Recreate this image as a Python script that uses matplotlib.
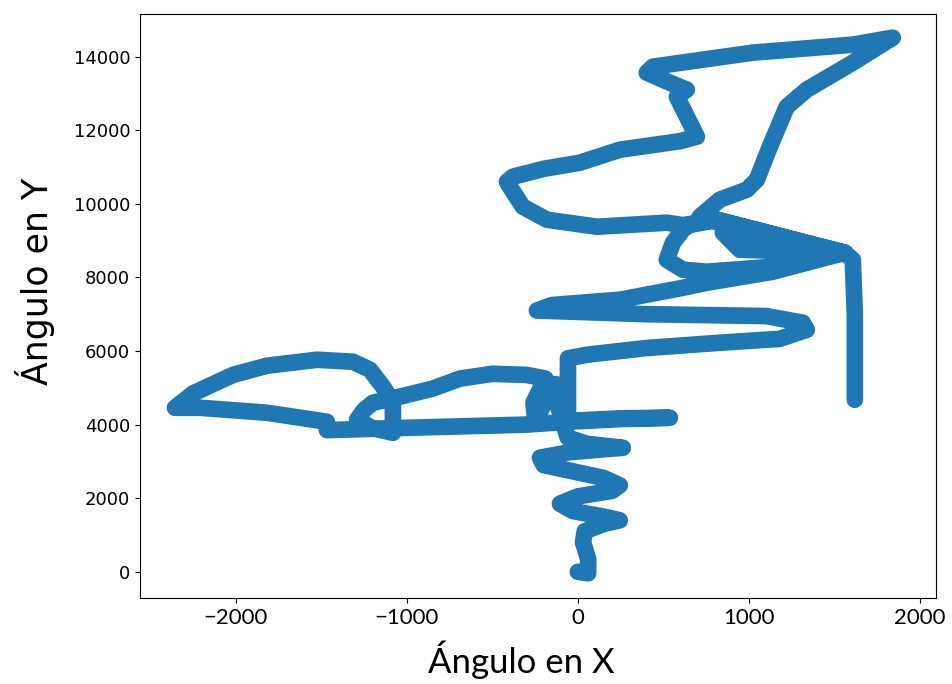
import matplotlib
matplotlib.use("Agg")
import matplotlib.pyplot as plt

# trayectoria (angulo X, angulo Y)
angle_x = [
    0, 60, 60, 30, 40, 150, 245, 150, -30, -105, 0, 200, 245, 150, -50, -200,
    -222, -50, 150, 263, 50, -60, -80,
    -50, 250, 538, 250, -50,
    -300, -700, -1100, -1468,
    -1468, -1819, -2210, -2357,
    -2250, -2018, -1819, -1526, -1316, -1216, -1140, -1082, -1082,
    -1200, -1292, -1250, -1199, -1023, -848, -690, -500, -300, -190, -260,
    -250, -150, -130, -110, -80,
    -58, -58, 53, 400, 830, 1181, 1339, 1316, 1100, 400, -240,
    -150, 246, 596, 754, 1140, 1561,
    813, 650, 614, 556, 520, 614, 754, 1140, 1561,
    848, 947, 1561,
    813, 614, 520, 111, -181, -322, -398, -415, -380, -200, 12, 246, 596,
    696, 579, 637, 538, 403, 439, 1023, 1608, 1842,
    1608, 1339, 1222, 1123, 1047, 988, 830, 713, 813, 1561,
    1608, 1620, 1620, 1620,
]
angle_y = [
    0, -40, 350, 800, 1100, 1300, 1400, 1500, 1650, 1850, 2050, 2200, 2350, 2550,
    2750, 2900, 3100, 3250, 3330, 3370, 3480, 3650, 3950,
    4100, 4170, 4186, 4150, 4080,
    4000, 3950, 3900, 3850,
    4077, 4322, 4457, 4457,
    4850, 5350, 5600, 5762, 5708, 5490, 5028, 4593, 3778,
    3900, 4131, 4400, 4593, 4780, 4980, 5250, 5380, 5350, 5250, 4600,
    4150, 4900, 5100, 4400, 4100,
    4300, 5800, 5898, 6080, 6224, 6330, 6577, 6768, 6950, 7000, 7100,
    7250, 7393, 7700, 7855, 8154, 8670,
    9567, 9420, 9295, 8942, 8480, 8208, 8154, 8290, 8670,
    9214, 8752, 8670,
    9567, 9420, 9486, 9377, 9567, 9921, 10464, 10600, 10736, 10950, 11117,
    11470, 11700,
    11823, 12910, 13101, 13291, 13563, 13726, 14107, 14324, 14514,
    13835, 13101, 12639, 11552, 10655, 10383, 10111, 9649, 9500, 8670,
    8480, 7000, 6000, 4675,
]

fig = plt.figure(figsize=(9.53, 6.84), dpi=100)
ax = fig.add_axes([0.147, 0.126, 0.835, 0.854])

ax.plot(angle_x, angle_y, color="#1f77b4", lw=12,
        solid_capstyle="round", solid_joinstyle="round")

ax.set_xlim(-2561, 2094)
ax.set_ylim(-707, 15166)
ax.set_xticks([-2000, -1000, 0, 1000, 2000])
ax.set_xticklabels(["\u22122000", "\u22121000", "0", "1000", "2000"])
ax.set_yticks(range(0, 14001, 2000))

for lab in ax.get_xticklabels():
    lab.set_fontfamily("Lato")
    lab.set_fontsize(16)
for lab in ax.get_yticklabels():
    lab.set_fontsize(13)

fig.text(0.547, 0.035, "Ángulo en X", fontsize=25, family="Lato",
         ha="center", va="center")
fig.text(0.037, 0.588, "Ángulo en Y", fontsize=25, rotation=90,
         ha="center", va="center")

fig.savefig("out.png", dpi=100)
